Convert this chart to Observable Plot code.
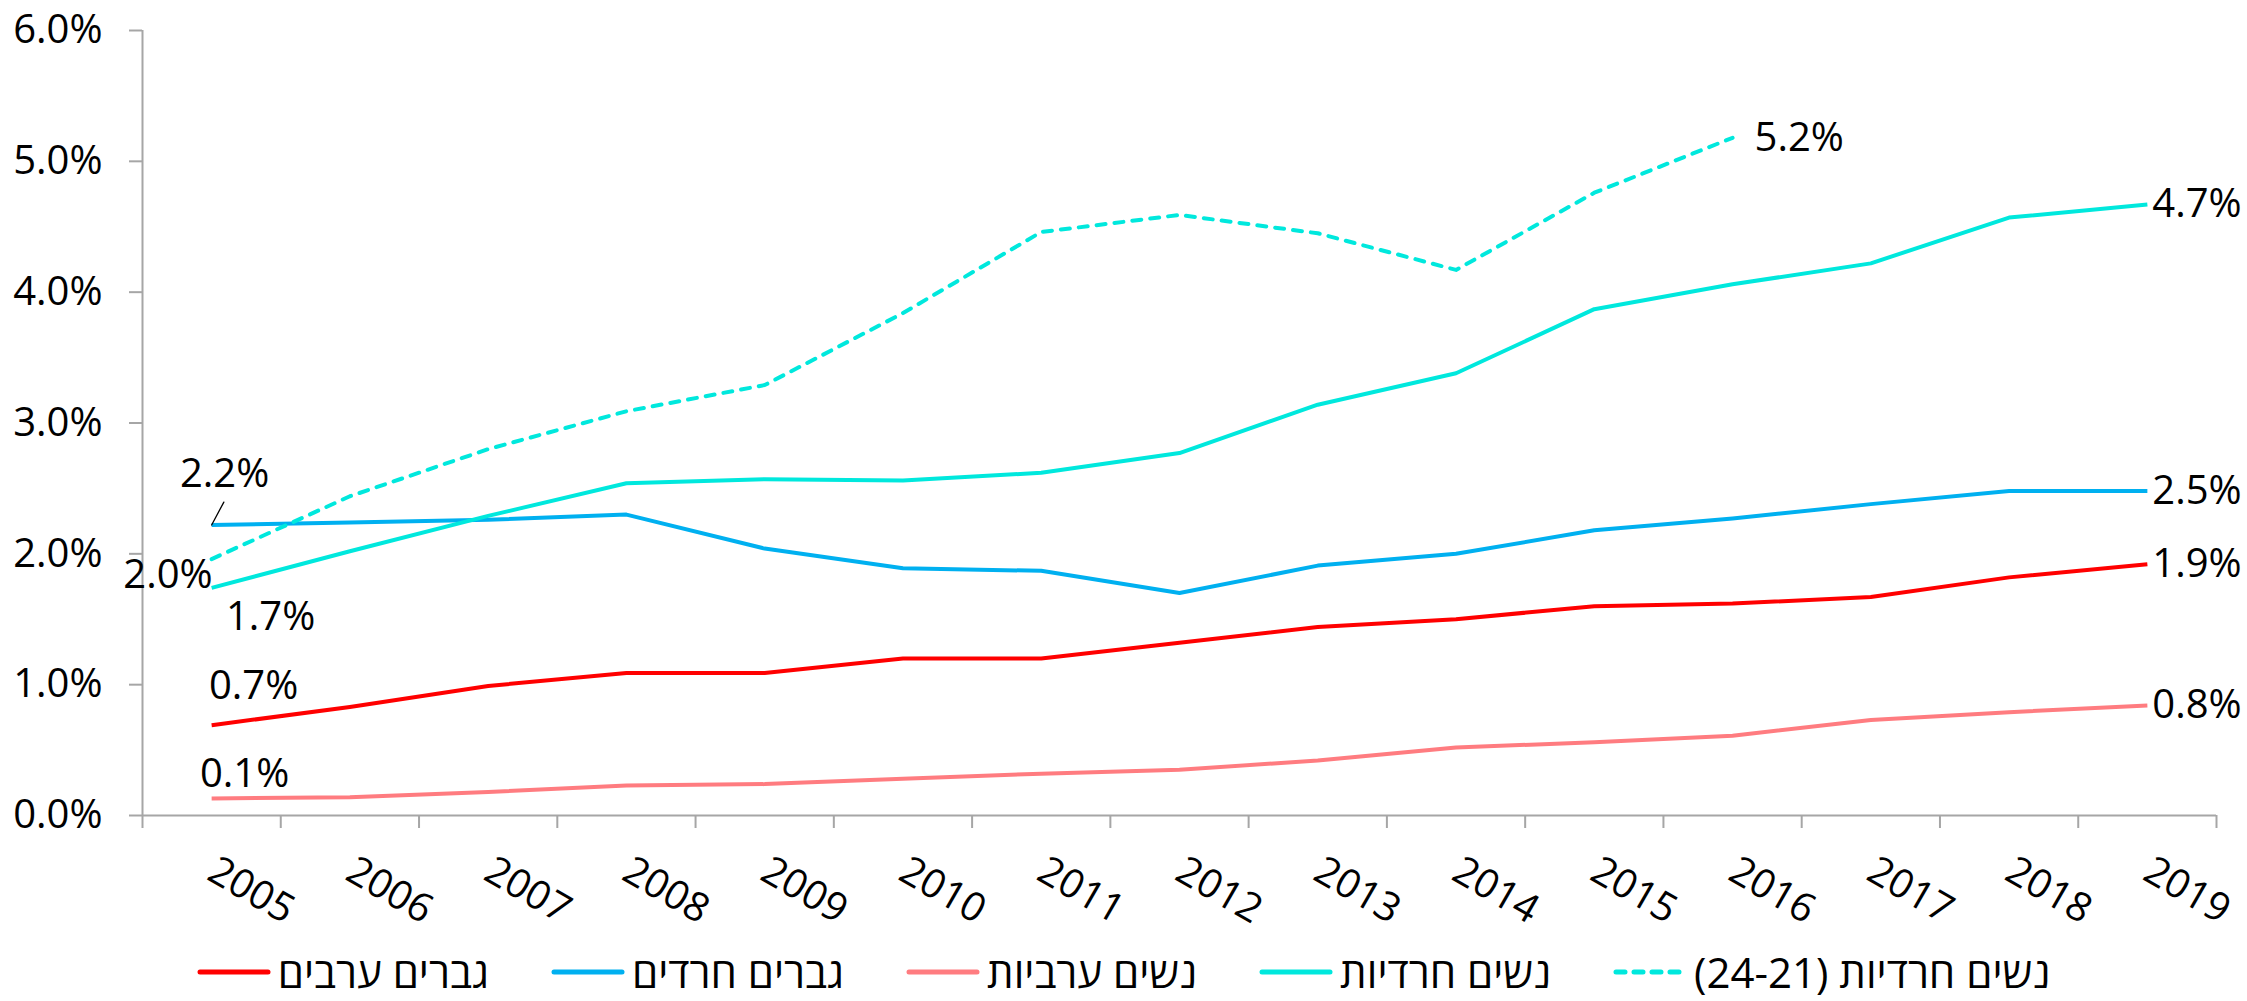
<!DOCTYPE html>
<html><head><meta charset="utf-8">
<script src="https://cdn.jsdelivr.net/npm/d3@7"></script>
<script src="https://cdn.jsdelivr.net/npm/@observablehq/plot@0.6"></script>
<style>
html,body{margin:0;padding:0;background:#fff;}
body{width:2247px;height:1001px;position:relative;overflow:hidden;font-family:"Open Sans","DejaVu Sans",sans-serif;}
#legend{position:absolute;left:0;right:0;top:952px;height:40px;display:flex;justify-content:center;align-items:center;gap:62px;font-size:42px;color:#000;}
.item{display:flex;align-items:center;height:40px;}
.item span{margin-left:7px;line-height:40px;}
</style></head><body>
<div id="chart"></div>
<div id="legend"></div>
<script>
const years = [2005,2006,2007,2008,2009,2010,2011,2012,2013,2014,2015,2016,2017,2018,2019];
const arabMen = [0.69,0.83,0.99,1.09,1.09,1.20,1.20,1.32,1.44,1.50,1.60,1.62,1.67,1.82,1.92];
const harediMen = [2.22,2.24,2.26,2.30,2.04,1.89,1.87,1.70,1.91,2.00,2.18,2.27,2.38,2.48,2.48];
const arabWomen = [0.13,0.14,0.18,0.23,0.24,0.28,0.32,0.35,0.42,0.52,0.56,0.61,0.73,0.79,0.84];
const harediWomen = [1.74,2.02,2.29,2.54,2.57,2.56,2.62,2.77,3.14,3.38,3.87,4.06,4.22,4.57,4.67];
const harediWomen2124 = [1.96,2.44,2.80,3.09,3.29,3.84,4.46,4.59,4.45,4.17,4.76,5.18];
const seriesNames = ["גברים ערבים","גברים חרדים","נשים ערביות","נשים חרדיות","נשים חרדיות (24-21)"];
const seriesColors = ["#FF0000","#00B0F0","#FF7C80","#00E8DD","#00E8DD"];
const seriesDash = [null,null,null,null,"9,9"];
const yTicks = [0,1,2,3,4,5,6];

const seriesValues = [arabMen, harediMen, arabWomen, harediWomen, harediWomen2124];
const rows = seriesValues.map((vals, s) => vals.map((v, i) => ({year: years[i], value: v, s})));
const fmt = v => v.toFixed(1) + "%";
const xDomain = [years[0] - 0.5, years[years.length - 1] + 0.5];
const boundaries = d3.range(xDomain[0], xDomain[1] + 0.01, 1);
const gray = "#A6A6A6";
const FS = 40;

const first = s => rows[s][0];
const last = s => rows[s][rows[s].length - 1];

const labelMark = (d, opts) => Plot.text([d], {x: "year", y: "value", text: r => fmt(r.value), fontSize: FS, fill: "#000", ...opts});

const marks = [
  Plot.ruleY([0], {stroke: gray, strokeWidth: 2}),
  Plot.ruleX([xDomain[0]], {stroke: gray, strokeWidth: 2}),
  Plot.axisX(boundaries, {tickSize: 13, tickFormat: () => "", stroke: gray, strokeWidth: 2, label: null}),
  Plot.axisY(yTicks, {tickSize: 13, tickPadding: 27, tickFormat: fmt, fontSize: FS, stroke: gray, strokeWidth: 2, fill: "#000", label: null}),
  Plot.text(years, {x: d => d, frameAnchor: "bottom", dy: 52, rotate: 30, textAnchor: "start", lineAnchor: "middle", fontSize: FS, fill: "#000", text: d => String(d)}),
  ...rows.map((r, s) => Plot.line(r, {x: "year", y: "value", stroke: seriesColors[s], strokeWidth: 4, strokeDasharray: seriesDash[s] || undefined, strokeLinecap: seriesDash[s] ? "round" : "butt", strokeLinejoin: "round"})),
  Plot.vector([first(1)], {x: "year", y: "value", length: 26, rotate: 28, anchor: "start", stroke: "#000", strokeWidth: 1.3,
    shape: {draw(ctx, l) { ctx.moveTo(0, 0); ctx.lineTo(0, -l); }}}),
  labelMark(first(1), {textAnchor: "middle", dx: 13, dy: -51}),
  labelMark(first(4), {textAnchor: "end", dx: 1, dy: 16}),
  labelMark(first(3), {textAnchor: "middle", dx: 59, dy: 29}),
  labelMark(first(0), {textAnchor: "middle", dx: 42, dy: -39}),
  labelMark(first(2), {textAnchor: "middle", dx: 33, dy: -24}),
  labelMark(last(4), {textAnchor: "start", dx: 22}),
  labelMark(last(3), {textAnchor: "start", dx: 5}),
  labelMark(last(1), {textAnchor: "start", dx: 5}),
  labelMark(last(0), {textAnchor: "start", dx: 5}),
  labelMark(last(2), {textAnchor: "start", dx: 5})
];

const chart = Plot.plot({
  width: 2247, height: 935,
  marginTop: 30, marginBottom: 120, marginLeft: 142, marginRight: 31,
  style: {fontFamily: '"Open Sans","DejaVu Sans",sans-serif', background: "#fff", overflow: "visible"},
  x: {type: "linear", domain: xDomain, axis: null},
  y: {domain: [yTicks[0], yTicks[yTicks.length - 1]], axis: null},
  marks
});
document.getElementById("chart").append(chart);

const legend = document.getElementById("legend");
seriesNames.forEach((name, s) => {
  const item = document.createElement("div");
  item.className = "item";
  const dash = seriesDash[s] ? `stroke-dasharray="${seriesDash[s]}" stroke-linecap="round"` : `stroke-linecap="round"`;
  item.innerHTML = `<svg width="74" height="10"><line x1="3" y1="5" x2="71" y2="5" stroke="${seriesColors[s]}" stroke-width="5" ${dash}/></svg>`;
  const span = document.createElement("span");
  span.dir = "rtl";
  span.textContent = name;
  item.append(span);
  legend.append(item);
});
</script>
</body></html>
